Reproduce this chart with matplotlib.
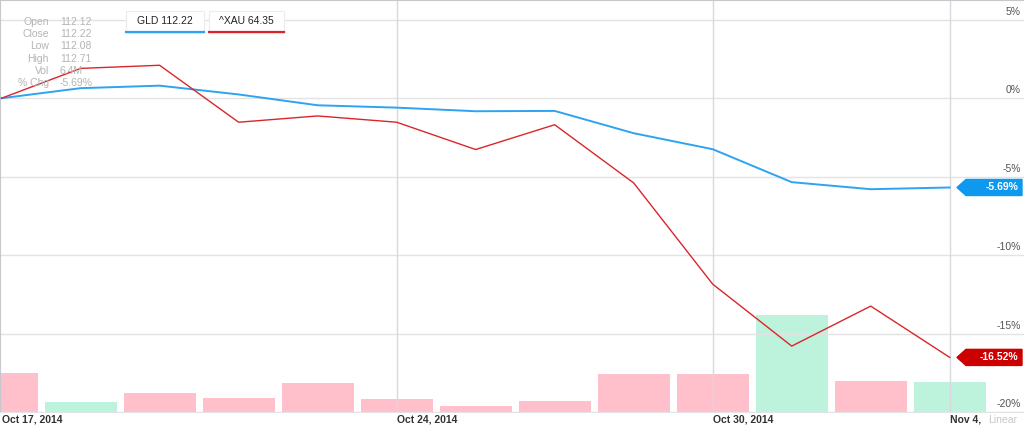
import matplotlib
matplotlib.use("Agg")
import matplotlib.pyplot as plt
from matplotlib.patches import Polygon, Rectangle
from matplotlib.lines import Line2D
from matplotlib.transforms import blended_transform_factory, offset_copy

plt.rcParams['font.family'] = ['Liberation Sans', 'DejaVu Sans']

# data (percent change from Oct 17, 2014)
dates = ["Oct 17", "Oct 20", "Oct 21", "Oct 22", "Oct 23", "Oct 24", "Oct 27",
         "Oct 28", "Oct 29", "Oct 30", "Oct 31", "Nov 3", "Nov 4"]
gld_pct = [0.0, 0.64, 0.8, 0.24, -0.45, -0.6, -0.83, -0.81, -2.23, -3.25, -5.35, -5.8, -5.69]
xau_pct = [0.0, 1.9, 2.1, -1.53, -1.13, -1.53, -3.27, -1.69, -5.4, -11.85, -15.8, -13.25, -16.52]
volume_m = [8.3, 2.1, 4.0, 3.0, 6.2, 2.8, 1.3, 2.3, 8.1, 8.1, 20.7, 6.6, 6.4]
volume_up = [False, True, False, False, False, False, False, False, False, False, True, False, True]
tick_idx = [0, 5, 9, 12]
tick_labels = ["Oct 17, 2014", "Oct 24, 2014", "Oct 30, 2014", "Nov 4,"]
y_ticks = [5, 0, -5, -10, -15, -20]
info_labels = ["Open", "Close", "Low", "High", "Vol", "% Chg"]
info_values = ["112.12", "112.22", "112.08", "112.71", "6.4M", "-5.69%"]

BLUE = "#2ea3f2"
RED = "#d9262a"
W, H = 1024, 429

fig = plt.figure(figsize=(10.24, 4.29), dpi=100)
ax = fig.add_axes([0, 17 / H, 1, 1 - 17 / H])
axv = ax.twinx()
ax.set_zorder(axv.get_zorder() + 1)
ax.patch.set_visible(False)

x = list(range(len(dates)))

# volume bars
bar_colors = ["#bdf2dc" if u else "#ffc0cb" for u in volume_up]
axv.bar(x, volume_m, width=0.91, color=bar_colors, zorder=1)
axv.set_ylim(0, 88)
axv.set_yticks([])
for s in axv.spines.values():
    s.set_visible(False)

# price lines
ax.plot(x, gld_pct, color=BLUE, lw=1.4, zorder=3)
ax.plot(x, xau_pct, color=RED, lw=1.0, zorder=3)

ax.set_xlim(-0.02, 12.94)
ax.set_ylim(-20, 6.26)

# grid
for v in y_ticks:
    ax.axhline(v, color="#e3e3e6", lw=1, zorder=0)
for i in tick_idx[1:]:
    ax.axvline(i, color="#d8d8de", lw=1, zorder=0)

ax.set_yticks([])
ax.set_xticks(tick_idx)
ax.set_xticklabels(tick_labels, fontsize=7.5, color="#333333", fontweight="bold", ha="left")
ax.tick_params(axis="x", length=0, pad=2)
for s in ["top", "left"]:
    ax.spines[s].set_color("#c8c8cc")
ax.spines["right"].set_visible(False)
ax.spines["bottom"].set_color("#e3e3e6")

ax.text(988 / W, -0.007, "Linear", transform=ax.transAxes, fontsize=7.5, color="#c8c8c8",
        ha="left", va="top")

# right-side y labels
tr = blended_transform_factory(ax.transAxes, ax.transData)
tr_up = offset_copy(tr, fig=fig, y=2, units="points")
for v in y_ticks:
    ax.text(0.997, v, f"{v}%", transform=tr_up, ha="right", va="bottom",
            fontsize=7.5, color="#555555")


# last-value badges
def badge(val, color):
    h = 8 / 15.65
    pts = [(957 / W, val), (966 / W, val + h), (1022 / W, val + h),
           (1022 / W, val - h), (966 / W, val - h)]
    ax.add_patch(Polygon(pts, closed=True, transform=tr, color=color,
                         zorder=5, clip_on=False))
    ax.text(1018 / W, val, f"{val:.2f}%", transform=tr, ha="right", va="center",
            fontsize=7.5, color="white", fontweight="bold", zorder=6)


badge(gld_pct[-1], "#0e99ee")
badge(xau_pct[-1], "#cc0000")

# legend boxes
for (x0, x1, label, col) in [(126, 204, "GLD 112.22", BLUE), (209, 284, "^XAU 64.35", RED)]:
    fig.patches.append(Rectangle((x0 / W, 1 - 33 / H), (x1 - x0) / W, 22 / H,
                                 transform=fig.transFigure, facecolor="white",
                                 edgecolor="#ececec", lw=0.8, zorder=5))
    fig.lines.append(Line2D([x0 / W, x1 / W], [1 - 32 / H, 1 - 32 / H],
                            transform=fig.transFigure, color=col, lw=1.6, zorder=6))
    fig.text((x0 + x1) / 2 / W, 1 - 21 / H, label, ha="center", va="center",
             fontsize=7.5, color="#222222", zorder=7)

# info panel
for k, (lab, val) in enumerate(zip(info_labels, info_values)):
    yy = 1 - (22 + k * 12.2) / H
    fig.text(49 / W, yy, lab, ha="right", va="center", fontsize=7.5, color="#b4b4b4")
    fig.text(60 / W, yy, val, ha="left", va="center", fontsize=7.5, color="#b4b4b4")

plt.savefig("out.png", dpi=100)
